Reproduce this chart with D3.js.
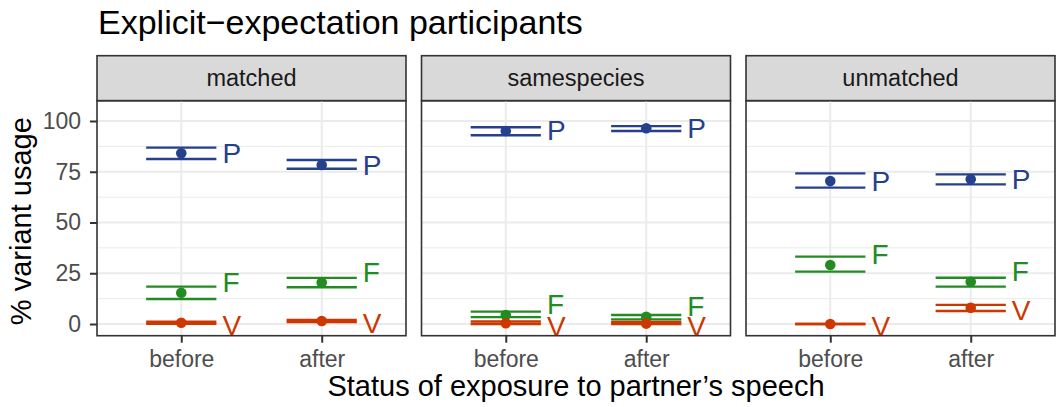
<!DOCTYPE html>
<html>
<head>
<meta charset="utf-8">
<title>Explicit-expectation participants</title>
<style>
  html, body { margin:0; padding:0; background:#fff; }
  svg { display:block; font-family: "Liberation Sans", Arial, Helvetica, sans-serif; }
</style>
<script src="https://d3js.org/d3.v7.min.js"></script>
</head>
<body>
<svg id="chart"></svg>
<script>
// data
var conditions = ["matched", "samespecies", "unmatched"];
var statuses = ["before", "after"];
var variants = ["F", "P", "V"];
var variantColors = ["#228B22", "#27408B", "#CD3700"];
var labelNudge = [5, 0, -1.4];   // label offset (in % units) per variant
var yTicks = [0, 25, 50, 75, 100];
var yMinor = [12.5, 37.5, 62.5, 87.5];

// mean, lower, upper : [condition][status][variant F,P,V]
var means = [
  [[15.4, 84.1, 0.6], [20.5, 78.3, 1.5]],
  [[4.4, 95.1, 0.4], [3.6, 96.4, 0.2]],
  [[29.1, 70.4, 0.0], [20.8, 71.3, 8.0]]
];
var lower = [
  [[12.3, 81.3, 0.1], [18.1, 76.5, 1.0]],
  [[3.4, 93.0, 0.0], [2.3, 95.1, 0.0]],
  [[25.8, 67.2, 0.0], [18.4, 68.8, 6.4]]
];
var upper = [
  [[18.4, 86.9, 1.1], [22.7, 80.8, 2.0]],
  [[6.1, 96.9, 1.2], [4.4, 97.5, 1.0]],
  [[33.2, 74.2, 0.0], [22.8, 73.7, 9.4]]
];

var width = 1057, height = 407;
var svg = d3.select("#chart").attr("width", width).attr("height", height);

var stripTop = 55.7, panelTop = 100.7, panelBottom = 335.7;

var facet = d3.scaleBand().domain(conditions).range([97, 1055]).paddingInner(0.0478);
var pw = facet.bandwidth();
var x = d3.scalePoint().domain(statuses).range([0, pw]).padding(0.6);
var y = d3.scaleLinear().domain([-5.76, 110]).range([panelBottom, panelTop]);
var halfW = 0.25 * x.step();

// flatten
var rows = [];
conditions.forEach(function(c, ci) {
  statuses.forEach(function(s, si) {
    variants.forEach(function(v, vi) {
      rows.push({cond: c, status: s, variant: v, vi: vi,
        mean: means[ci][si][vi], lo: lower[ci][si][vi], hi: upper[ci][si][vi]});
    });
  });
});

// title
svg.append("text").attr("x", 98).attr("y", 34)
  .style("font-size", "34px").attr("fill", "#000")
  .text("Explicit\u2212expectation participants");

conditions.forEach(function(c, ci) {
  var g = svg.append("g").attr("transform", "translate(" + facet(c) + ",0)");

  // strip
  g.append("rect").attr("x", 0).attr("y", stripTop).attr("width", pw).attr("height", panelTop - stripTop)
    .attr("fill", "#d9d9d9").attr("stroke", "#333").attr("stroke-width", 1.6);
  g.append("text").attr("x", pw / 2).attr("y", (stripTop + panelTop) / 2)
    .attr("text-anchor", "middle").attr("dominant-baseline", "central")
    .style("font-size", "23.5px").attr("fill", "#1a1a1a").text(c);

  // grid
  g.selectAll(".minor").data(yMinor).enter().append("line")
    .attr("x1", 0).attr("x2", pw).attr("y1", y).attr("y2", y)
    .attr("stroke", "#ebebeb").attr("stroke-width", 1);
  g.selectAll(".major").data(yTicks).enter().append("line")
    .attr("x1", 0).attr("x2", pw).attr("y1", y).attr("y2", y)
    .attr("stroke", "#ebebeb").attr("stroke-width", 2);
  g.selectAll(".vgrid").data(statuses).enter().append("line")
    .attr("x1", x).attr("x2", x).attr("y1", panelTop).attr("y2", panelBottom)
    .attr("stroke", "#ebebeb").attr("stroke-width", 2);

  var d = rows.filter(function(r) { return r.cond === c; });

  // error bars (horizontal whiskers only)
  ["lo", "hi"].forEach(function(k) {
    g.selectAll(".eb" + k).data(d).enter().append("line")
      .attr("x1", function(r) { return x(r.status) - halfW; })
      .attr("x2", function(r) { return x(r.status) + halfW; })
      .attr("y1", function(r) { return y(r[k]); })
      .attr("y2", function(r) { return y(r[k]); })
      .attr("stroke", function(r) { return variantColors[r.vi]; })
      .attr("stroke-width", 2.4);
  });

  // points
  g.selectAll(".pt").data(d).enter().append("circle")
    .attr("cx", function(r) { return x(r.status); })
    .attr("cy", function(r) { return y(r.mean); })
    .attr("r", 5.3)
    .attr("fill", function(r) { return variantColors[r.vi]; });

  // labels
  g.selectAll(".lab").data(d).enter().append("text")
    .attr("x", function(r) { return x(r.status) + halfW + 6; })
    .attr("y", function(r) { return y(r.mean + labelNudge[r.vi]); })
    .attr("dominant-baseline", "central")
    .style("font-size", "28px")
    .attr("fill", function(r) { return variantColors[r.vi]; })
    .text(function(r) { return r.variant; });

  // panel border
  g.append("rect").attr("x", 0).attr("y", panelTop).attr("width", pw).attr("height", panelBottom - panelTop)
    .attr("fill", "none").attr("stroke", "#333").attr("stroke-width", 1.6);

  // x axis
  var xa = g.append("g").attr("transform", "translate(0," + panelBottom + ")")
    .call(d3.axisBottom(x).tickSize(7).tickPadding(8));
  xa.select(".domain").remove();
  xa.selectAll(".tick line").attr("stroke", "#333").attr("stroke-width", 2);
  xa.selectAll(".tick text").style("font-size", "23px").attr("fill", "#4d4d4d")
    .style("font-family", "Liberation Sans, Arial, sans-serif");

  if (ci === 0) {
    var ya = g.append("g").call(d3.axisLeft(y).tickValues(yTicks).tickSize(7).tickPadding(9));
    ya.select(".domain").remove();
    ya.selectAll(".tick line").attr("stroke", "#333").attr("stroke-width", 2);
    ya.selectAll(".tick text").style("font-size", "23px").attr("fill", "#4d4d4d")
      .style("font-family", "Liberation Sans, Arial, sans-serif");
  }
});

// axis titles
svg.append("text").attr("x", 576).attr("y", 396).attr("text-anchor", "middle")
  .style("font-size", "29px").attr("fill", "#000")
  .text("Status of exposure to partner\u2019s speech");
svg.append("text").attr("transform", "translate(31," + ((panelTop + panelBottom) / 2 + 3) + ") rotate(-90)")
  .attr("text-anchor", "middle").style("font-size", "29px").attr("fill", "#000")
  .text("% variant usage");
</script>
</body>
</html>
